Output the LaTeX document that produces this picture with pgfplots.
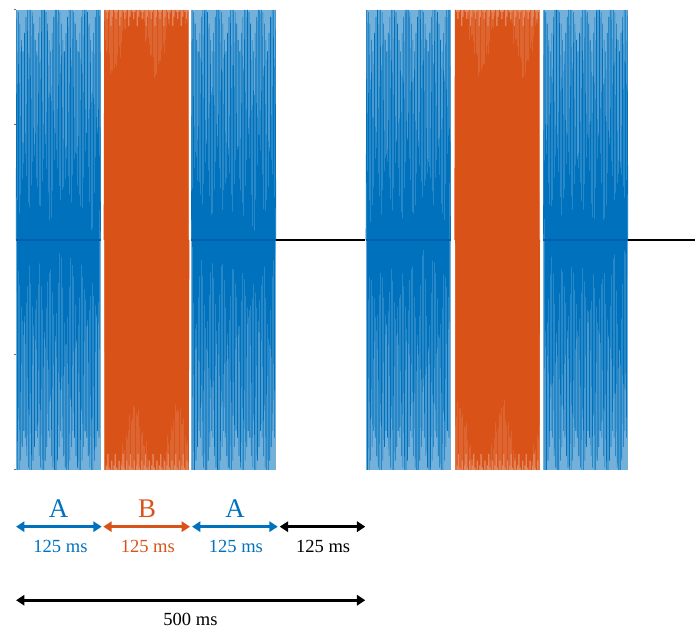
\documentclass[border=0pt]{standalone}
\usepackage{fontspec}
\setmainfont{Liberation Serif}
\usepackage{pgfplots}
\usepackage{pgfplotstable}
\pgfplotsset{compat=1.18}
\usetikzlibrary{arrows.meta}

\definecolor{toneA}{RGB}{0,114,189}
\definecolor{toneAdark}{RGB}{0,96,172}
\definecolor{toneB}{RGB}{217,83,25}

% Tone A waveform (time in ms relative to tone onset, normalised amplitude)
\pgfplotstableread[row sep=\\]{
t y\\
0 0\\ 1.1 1.00\\ 2.2 -1.00\\ 3.3 0.99\\ 4.4 -1.00\\ 5.5 0.94\\ 6.6 -0.96\\ 7.7 0.87\\ 8.8 -0.90\\ 9.9 0.82\\
11 -0.83\\ 12.1 0.90\\ 13.2 -0.86\\ 14.3 0.97\\ 15.4 -0.94\\ 16.5 1.00\\ 17.6 -0.99\\ 18.7 1.00\\ 19.8 -1.00\\ 20.9 1.00\\
22 -1.00\\ 23.1 0.99\\ 24.2 -0.96\\ 25.3 0.94\\ 26.4 -0.90\\ 27.5 0.87\\ 28.6 -0.83\\ 29.7 0.82\\ 30.8 -0.86\\ 31.9 0.90\\
33 -0.94\\ 34.1 0.97\\ 35.2 -0.99\\ 36.3 1.00\\ 37.4 -1.00\\ 38.5 1.00\\ 39.6 -1.00\\ 40.7 1.00\\ 41.8 -0.96\\ 42.9 0.99\\
44 -0.90\\ 45.1 0.94\\ 46.2 -0.83\\ 47.3 0.87\\ 48.4 -0.86\\ 49.5 0.82\\ 50.6 -0.94\\ 51.7 0.90\\ 52.8 -0.99\\ 53.9 0.97\\
55 -1.00\\ 56.1 1.00\\ 57.2 -1.00\\ 58.3 1.00\\ 59.4 -0.96\\ 60.5 1.00\\ 61.6 -0.90\\ 62.7 0.99\\ 63.8 -0.83\\ 64.9 0.94\\
66 -0.86\\ 67.1 0.87\\ 68.2 -0.94\\ 69.3 0.82\\ 70.4 -0.99\\ 71.5 0.90\\ 72.6 -1.00\\ 73.7 0.97\\ 74.8 -1.00\\ 75.9 1.00\\
77 -0.96\\ 78.1 1.00\\ 79.2 -0.90\\ 80.3 1.00\\ 81.4 -0.83\\ 82.5 0.99\\ 83.6 -0.86\\ 84.7 0.94\\ 85.8 -0.94\\ 86.9 0.87\\
88 -0.99\\ 89.1 0.82\\ 90.2 -1.00\\ 91.3 0.90\\ 92.4 -1.00\\ 93.5 0.97\\ 94.6 -0.96\\ 95.7 1.00\\ 96.8 -0.90\\ 97.9 1.00\\
99 -0.83\\ 100.1 1.00\\ 101.2 -0.86\\ 102.3 0.99\\ 103.4 -0.94\\ 104.5 0.94\\ 105.6 -0.99\\ 106.7 0.87\\ 107.8 -1.00\\ 108.9 0.82\\
110 -1.00\\ 111.1 0.90\\ 112.2 -0.96\\ 113.3 0.97\\ 114.4 -0.90\\ 115.5 1.00\\ 116.6 -0.83\\ 117.7 1.00\\ 118.8 -0.86\\ 119.9 1.00\\
121 0\\
}\toneAwave

% Tone B waveform (higher frequency)
\pgfplotstableread[row sep=\\]{
t y\\
0 0\\ 0.9 1.00\\ 1.8 -1.00\\ 2.7 0.99\\ 3.6 -0.98\\ 4.5 0.96\\ 5.4 -0.93\\ 6.3 0.99\\ 7.2 -0.99\\ 8.1 1.00\\
9 -1.00\\ 9.9 0.93\\ 10.8 -0.96\\ 11.7 0.97\\ 12.6 -1.00\\ 13.5 1.00\\ 14.4 -0.98\\ 15.3 0.99\\ 16.2 -0.93\\ 17.1 0.96\\
18 -0.99\\ 18.9 0.99\\ 19.8 -1.00\\ 20.7 1.00\\ 21.6 -0.96\\ 22.5 0.93\\ 23.4 -1.00\\ 24.3 0.97\\ 25.2 -0.98\\ 26.1 1.00\\
27 -0.93\\ 27.9 0.99\\ 28.8 -0.99\\ 29.7 0.96\\ 30.6 -1.00\\ 31.5 0.99\\ 32.4 -0.96\\ 33.3 1.00\\ 34.2 -1.00\\ 35.1 0.93\\
36 -0.98\\ 36.9 0.97\\ 37.8 -0.93\\ 38.7 1.00\\ 39.6 -0.99\\ 40.5 0.99\\ 41.4 -1.00\\ 42.3 0.96\\ 43.2 -0.96\\ 44.1 0.99\\
45 -1.00\\ 45.9 1.00\\ 46.8 -0.98\\ 47.7 0.93\\ 48.6 -0.93\\ 49.5 0.97\\ 50.4 -0.99\\ 51.3 1.00\\ 52.2 -1.00\\ 53.1 0.99\\
54 -0.96\\ 54.9 0.96\\ 55.8 -1.00\\ 56.7 0.99\\ 57.6 -0.98\\ 58.5 1.00\\ 59.4 -0.93\\ 60.3 0.93\\ 61.2 -0.99\\ 62.1 0.97\\
63 -1.00\\ 63.9 1.00\\ 64.8 -0.96\\ 65.7 0.99\\ 66.6 -1.00\\ 67.5 0.96\\ 68.4 -0.98\\ 69.3 0.99\\ 70.2 -0.93\\ 71.1 1.00\\
72 -0.99\\ 72.9 0.93\\ 73.8 -1.00\\ 74.7 0.97\\ 75.6 -0.96\\ 76.5 1.00\\ 77.4 -1.00\\ 78.3 0.99\\ 79.2 -0.98\\ 80.1 0.96\\
81 -0.93\\ 81.9 0.99\\ 82.8 -0.99\\ 83.7 1.00\\ 84.6 -1.00\\ 85.5 0.93\\ 86.4 -0.96\\ 87.3 0.97\\ 88.2 -1.00\\ 89.1 1.00\\
90 -0.98\\ 90.9 0.99\\ 91.8 -0.93\\ 92.7 0.96\\ 93.6 -0.99\\ 94.5 0.99\\ 95.4 -1.00\\ 96.3 1.00\\ 97.2 -0.96\\ 98.1 0.93\\
99 -1.00\\ 99.9 0.97\\ 100.8 -0.98\\ 101.7 1.00\\ 102.6 -0.93\\ 103.5 0.99\\ 104.4 -0.99\\ 105.3 0.96\\ 106.2 -1.00\\ 107.1 0.99\\
108 -0.96\\ 108.9 1.00\\ 109.8 -1.00\\ 110.7 0.93\\ 111.6 -0.98\\ 112.5 0.97\\ 113.4 -0.93\\ 114.3 1.00\\ 115.2 -0.99\\ 116.1 0.99\\
117 -1.00\\ 117.9 0.96\\ 118.8 -0.96\\ 119.7 0.99\\ 120.6 -1.00\\ 121.5 0\\
}\toneBwave

\begin{document}
\begin{tikzpicture}
\begin{axis}[
  scale only axis,
  width=341pt, height=231pt,
  xmin=0, xmax=972, ymin=-1, ymax=1,
  clip=false,
  hide x axis,
  axis y line*=left,
  y axis line style={draw=none},
  ytick={-1,-0.5,0.5,1},
  yticklabels={},
  major tick length=1.2pt,
  tick align=outside,
  tick style={black!55, line width=0.5pt},
]
% envelopes of the tones (full-scale amplitude)
\addplot[draw=none, fill=toneA!55] coordinates {(0,-1) (0,1) (121,1) (121,-1)} -- cycle;
\addplot[draw=none, fill=toneB!70] coordinates {(126,-1) (126,1) (247.5,1) (247.5,-1)} -- cycle;
\addplot[draw=none, fill=toneA!55] coordinates {(251,-1) (251,1) (372,1) (372,-1)} -- cycle;
\addplot[draw=none, fill=toneA!55] coordinates {(501,-1) (501,1) (622,1) (622,-1)} -- cycle;
\addplot[draw=none, fill=toneB!70] coordinates {(628,-1) (628,1) (749.5,1) (749.5,-1)} -- cycle;
\addplot[draw=none, fill=toneA!55] coordinates {(755,-1) (755,1) (876,1) (876,-1)} -- cycle;
% ABA- triplet 1
\addplot[toneA, line width=0.3pt] table[x expr=\thisrow{t}+0, y=y] {\toneAwave};
\addplot[toneB, line width=0.42pt] table[x expr=\thisrow{t}+126, y=y] {\toneBwave};
\addplot[toneA, line width=0.3pt] table[x expr=\thisrow{t}+251, y=y] {\toneAwave};
% ABA- triplet 2
\addplot[toneA, line width=0.3pt] table[x expr=\thisrow{t}+501, y=y] {\toneAwave};
\addplot[toneB, line width=0.42pt] table[x expr=\thisrow{t}+628, y=y] {\toneBwave};
\addplot[toneA, line width=0.3pt] table[x expr=\thisrow{t}+755, y=y] {\toneAwave};
% zero line through the A tones
\addplot[toneAdark, line width=0.6pt] coordinates {(0,0) (121,0)};
\addplot[toneAdark, line width=0.6pt] coordinates {(251,0) (372,0)};
\addplot[toneAdark, line width=0.6pt] coordinates {(501,0) (622,0)};
\addplot[toneAdark, line width=0.6pt] coordinates {(755,0) (876,0)};
% silent gaps
\addplot[black, line width=1pt] coordinates {(372,0) (500,0)};
\addplot[black, line width=1pt] coordinates {(876,0) (972,0)};

% timing annotations
\tikzset{dur/.style={line width=1.3pt, {Triangle[length=4.2pt,width=5.2pt]}-{Triangle[length=4.2pt,width=5.2pt]}}}
\draw[dur, toneA] (axis cs:0,-1.247) -- (axis cs:122.5,-1.247);
\draw[dur, toneB] (axis cs:125,-1.247) -- (axis cs:249,-1.247);
\draw[dur, toneA] (axis cs:252,-1.247) -- (axis cs:374.6,-1.247);
\draw[dur, black] (axis cs:377.5,-1.247) -- (axis cs:500,-1.247);
\draw[dur, black] (axis cs:0,-1.567) -- (axis cs:500,-1.567);

\node[anchor=base, toneA, font=\fontsize{13.5}{16}\selectfont] at (axis cs:61,-1.208) {A};
\node[anchor=base, toneB, font=\fontsize{13.5}{16}\selectfont] at (axis cs:187.6,-1.208) {B};
\node[anchor=base, toneA, font=\fontsize{13.5}{16}\selectfont] at (axis cs:313.7,-1.208) {A};

\node[anchor=base, toneA, font=\fontsize{9.3}{11}\selectfont] at (axis cs:63.6,-1.359) {125 ms};
\node[anchor=base, toneB, font=\fontsize{9.3}{11}\selectfont] at (axis cs:188.7,-1.359) {125 ms};
\node[anchor=base, toneA, font=\fontsize{9.3}{11}\selectfont] at (axis cs:314.8,-1.359) {125 ms};
\node[anchor=base, black, font=\fontsize{9.3}{11}\selectfont] at (axis cs:439.7,-1.359) {125 ms};
\node[anchor=base, black, font=\fontsize{9.3}{11}\selectfont] at (axis cs:249.7,-1.675) {500 ms};

\coordinate (tl) at (axis cs:0,1);
\end{axis}
\useasboundingbox ([xshift=-7pt,yshift=5pt]tl) rectangle ++(348pt,-316.5pt);
\end{tikzpicture}
\end{document}
